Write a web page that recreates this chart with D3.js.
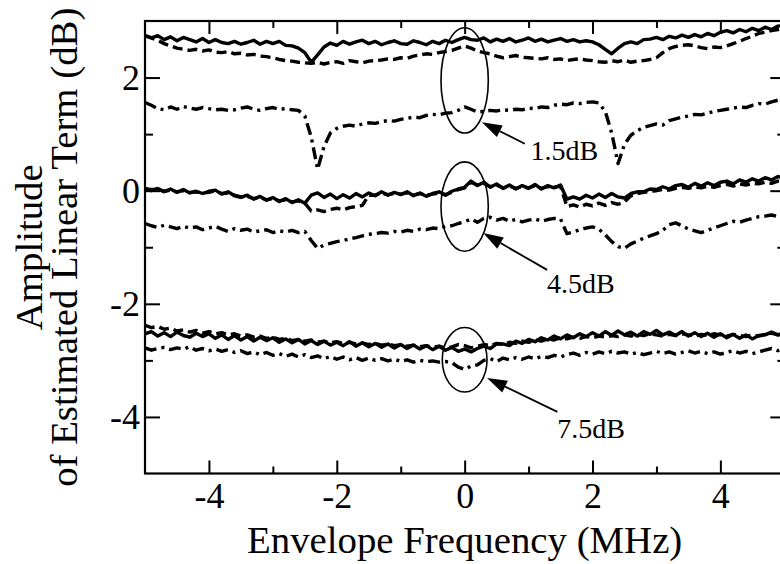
<!DOCTYPE html>
<html>
<head>
<meta charset="utf-8">
<script src="https://cdn.jsdelivr.net/npm/d3@7"></script>
<style>
  body { margin: 0; background: #fff; }
  svg { display: block; }
  text { font-family: "Liberation Serif", "Times New Roman", serif; fill: #000; }
</style>
</head>
<body>
<svg id="chart" width="780" height="564"></svg>
<script>
// Envelope frequency sweep (MHz)
const freq = [
  -5.0,-4.9,-4.8,-4.7,-4.6,-4.5,-4.4,-4.3,-4.2,-4.1,
  -4.0,-3.9,-3.8,-3.7,-3.6,-3.5,-3.4,-3.3,-3.2,-3.1,
  -3.0,-2.9,-2.8,-2.7,-2.6,-2.5,-2.4,-2.3,-2.2,-2.1,
  -2.0,-1.9,-1.8,-1.7,-1.6,-1.5,-1.4,-1.3,-1.2,-1.1,
  -1.0,-0.9,-0.8,-0.7,-0.6,-0.5,-0.4,-0.3,-0.2,-0.1,
   0.0, 0.1, 0.2, 0.3, 0.4, 0.5, 0.6, 0.7, 0.8, 0.9,
   1.0, 1.1, 1.2, 1.3, 1.4, 1.5, 1.6, 1.7, 1.8, 1.9,
   2.0, 2.1, 2.2, 2.3, 2.4, 2.5, 2.6, 2.7, 2.8, 2.9,
   3.0, 3.1, 3.2, 3.3, 3.4, 3.5, 3.6, 3.7, 3.8, 3.9,
   4.0, 4.1, 4.2, 4.3, 4.4, 4.5, 4.6, 4.7, 4.8, 4.9, 5.0
];

// 1.5 dB group (dB)
const solid15 = [
  2.74,2.70,2.74,2.67,2.72,2.65,2.71,2.67,2.63,2.69,
  2.62,2.67,2.62,2.60,2.64,2.59,2.62,2.66,2.59,2.64,
  2.60,2.64,2.57,2.56,2.52,2.44,2.27,2.40,2.54,2.61,
  2.57,2.64,2.59,2.63,2.66,2.60,2.64,2.58,2.62,2.65,
  2.60,2.59,2.65,2.62,2.58,2.64,2.60,2.66,2.62,2.67,
  2.71,2.67,2.66,2.70,2.63,2.68,2.64,2.69,2.63,2.66,
  2.70,2.64,2.68,2.63,2.66,2.69,2.64,2.67,2.63,2.65,
  2.63,2.58,2.50,2.42,2.52,2.60,2.63,2.60,2.67,2.68,
  2.71,2.67,2.73,2.70,2.75,2.71,2.76,2.72,2.78,2.74,
  2.80,2.83,2.79,2.85,2.81,2.87,2.83,2.89,2.85,2.91,2.92
];
const dashed15 = [
  2.74,2.70,2.66,2.60,2.56,2.52,2.50,2.48,2.50,2.47,
  2.49,2.45,2.44,2.46,2.42,2.43,2.40,2.41,2.38,2.37,
  2.35,2.32,2.30,2.29,2.27,2.26,2.25,2.27,2.24,2.27,
  2.28,2.25,2.30,2.28,2.26,2.29,2.30,2.31,2.33,2.32,
  2.35,2.34,2.38,2.40,2.42,2.41,2.44,2.46,2.48,2.52,
  2.56,2.52,2.47,2.44,2.42,2.38,2.35,2.37,2.39,2.36,
  2.35,2.34,2.33,2.35,2.32,2.33,2.30,2.32,2.33,2.31,
  2.30,2.28,2.27,2.30,2.28,2.31,2.27,2.29,2.30,2.32,
  2.35,2.44,2.51,2.55,2.57,2.58,2.56,2.53,2.51,2.54,
  2.53,2.56,2.60,2.64,2.69,2.73,2.78,2.80,2.83,2.85,2.87
];
const dashDot15 = [
  1.56,1.51,1.45,1.43,1.48,1.44,1.49,1.46,1.44,1.47,
  1.45,1.43,1.44,1.42,1.43,1.46,1.48,1.44,1.42,1.45,
  1.47,1.44,1.45,1.43,1.42,1.32,0.95,0.38,0.78,1.02,
  1.10,1.14,1.16,1.14,1.18,1.20,1.19,1.22,1.24,1.23,
  1.26,1.28,1.30,1.29,1.33,1.35,1.34,1.37,1.38,1.42,
  1.48,1.44,1.39,1.40,1.42,1.41,1.43,1.42,1.44,1.43,
  1.46,1.45,1.48,1.47,1.51,1.53,1.52,1.55,1.54,1.56,
  1.57,1.55,1.40,1.02,0.48,0.82,0.98,1.06,1.12,1.15,
  1.18,1.16,1.24,1.27,1.30,1.32,1.35,1.34,1.37,1.40,
  1.42,1.44,1.46,1.48,1.47,1.51,1.54,1.53,1.57,1.60,1.62
];

// 4.5 dB group (dB)
const solid45 = [
   0.04, 0.00, 0.04,-0.02, 0.03,-0.03, 0.02,-0.04,-0.01,-0.05,
  -0.01, 0.01,-0.06,-0.02,-0.09,-0.12,-0.08,-0.15,-0.10,-0.17,
  -0.12,-0.19,-0.14,-0.21,-0.16,-0.22,-0.08,-0.04,-0.12,-0.06,
  -0.14,-0.07,-0.13,-0.05,-0.11,-0.04,-0.09,-0.02,-0.08,-0.03,
  -0.07,-0.02,-0.09,-0.04,-0.10,-0.05,-0.02,-0.08,-0.01, 0.03,
   0.06, 0.17, 0.09, 0.15, 0.06, 0.12, 0.04, 0.10, 0.03, 0.09,
   0.04, 0.11, 0.03, 0.09, 0.05, 0.10,-0.15,-0.11,-0.15,-0.08,
  -0.13,-0.06,-0.12,-0.05,-0.11,-0.13,-0.05,-0.02,-0.02, 0.03,
   0.02, 0.07, 0.03, 0.09, 0.11, 0.06, 0.13, 0.08, 0.14, 0.09,
   0.15, 0.17, 0.12, 0.19, 0.15, 0.21, 0.17, 0.23, 0.19, 0.25, 0.22
];
const dashed45 = [
   0.03, 0.02, 0.02,-0.01, 0.01,-0.02, 0.00,-0.03,-0.02,-0.04,
  -0.03, 0.00,-0.05,-0.04,-0.08,-0.11,-0.10,-0.14,-0.12,-0.16,
  -0.14,-0.18,-0.16,-0.20,-0.18,-0.22,-0.36,-0.34,-0.37,-0.33,
  -0.31,-0.34,-0.30,-0.28,-0.26,-0.08,-0.08,-0.04,-0.07,-0.05,
  -0.06,-0.04,-0.08,-0.05,-0.08,-0.06,-0.04,-0.07,-0.03, 0.02,
   0.05, 0.15, 0.10, 0.13, 0.07, 0.10, 0.05, 0.08, 0.04, 0.07,
   0.05, 0.09, 0.04, 0.07, 0.06, 0.08,-0.28,-0.25,-0.29,-0.24,
  -0.27,-0.22,-0.26,-0.21,-0.24,-0.20,-0.09,-0.05,-0.03,-0.01,
   0.00, 0.02, 0.01, 0.04, 0.06, 0.04, 0.07, 0.05, 0.08, 0.06,
   0.09, 0.11, 0.08, 0.12, 0.10, 0.13, 0.12, 0.15, 0.13, 0.17, 0.15
];
const dashDot45 = [
  -0.58,-0.62,-0.65,-0.61,-0.64,-0.67,-0.63,-0.66,-0.64,-0.69,
  -0.66,-0.63,-0.68,-0.72,-0.67,-0.70,-0.68,-0.73,-0.71,-0.69,
  -0.74,-0.71,-0.73,-0.70,-0.74,-0.72,-0.88,-1.02,-0.96,-0.93,
  -0.90,-0.88,-0.85,-0.83,-0.80,-0.77,-0.76,-0.74,-0.75,-0.72,
  -0.73,-0.70,-0.72,-0.68,-0.69,-0.66,-0.67,-0.63,-0.62,-0.58,
  -0.55,-0.50,-0.56,-0.49,-0.47,-0.52,-0.49,-0.54,-0.51,-0.55,
  -0.52,-0.50,-0.54,-0.51,-0.49,-0.50,-0.76,-0.73,-0.69,-0.66,
  -0.64,-0.68,-0.78,-0.90,-0.99,-1.02,-0.94,-0.89,-0.84,-0.80,
  -0.76,-0.70,-0.60,-0.57,-0.62,-0.68,-0.71,-0.74,-0.70,-0.66,
  -0.62,-0.58,-0.54,-0.56,-0.52,-0.49,-0.46,-0.45,-0.43,-0.46,-0.42
];

// 7.5 dB group (dB)
const solid75 = [
  -2.53,-2.49,-2.57,-2.51,-2.58,-2.50,-2.56,-2.59,-2.52,-2.58,
  -2.53,-2.61,-2.55,-2.63,-2.56,-2.64,-2.58,-2.66,-2.59,-2.65,
  -2.60,-2.68,-2.62,-2.69,-2.63,-2.71,-2.65,-2.72,-2.66,-2.73,
  -2.68,-2.74,-2.67,-2.75,-2.69,-2.76,-2.70,-2.77,-2.71,-2.78,
  -2.72,-2.79,-2.73,-2.80,-2.74,-2.81,-2.75,-2.82,-2.77,-2.84,
  -2.80,-2.85,-2.79,-2.75,-2.79,-2.71,-2.71,-2.74,-2.66,-2.70,
  -2.63,-2.67,-2.60,-2.64,-2.57,-2.62,-2.55,-2.60,-2.53,-2.58,
  -2.51,-2.57,-2.49,-2.56,-2.48,-2.55,-2.50,-2.57,-2.49,-2.54,
  -2.47,-2.55,-2.50,-2.56,-2.49,-2.57,-2.51,-2.58,-2.52,-2.59,
  -2.53,-2.60,-2.54,-2.61,-2.55,-2.62,-2.56,-2.55,-2.50,-2.55,-2.50
];
const dashed75 = [
  -2.38,-2.42,-2.40,-2.45,-2.43,-2.48,-2.46,-2.50,-2.47,-2.52,
  -2.49,-2.53,-2.51,-2.55,-2.53,-2.57,-2.55,-2.59,-2.57,-2.61,
  -2.59,-2.63,-2.61,-2.65,-2.63,-2.66,-2.64,-2.68,-2.66,-2.69,
  -2.67,-2.70,-2.68,-2.71,-2.69,-2.72,-2.70,-2.73,-2.71,-2.74,
  -2.72,-2.75,-2.73,-2.76,-2.74,-2.77,-2.75,-2.78,-2.76,-2.72,
  -2.74,-2.78,-2.75,-2.72,-2.74,-2.70,-2.72,-2.68,-2.70,-2.66,
  -2.68,-2.64,-2.66,-2.62,-2.64,-2.60,-2.62,-2.59,-2.61,-2.58,
  -2.60,-2.57,-2.59,-2.56,-2.58,-2.55,-2.57,-2.54,-2.56,-2.53,
  -2.55,-2.57,-2.54,-2.56,-2.53,-2.55,-2.57,-2.54,-2.56,-2.53,
  -2.55,-2.57,-2.54,-2.56,-2.58,-2.55,-2.57,-2.54,-2.52,-2.55,-2.53
];
const dashDot75 = [
  -2.78,-2.82,-2.79,-2.77,-2.81,-2.78,-2.80,-2.76,-2.82,-2.79,
  -2.83,-2.80,-2.84,-2.81,-2.86,-2.83,-2.88,-2.85,-2.90,-2.86,
  -2.91,-2.88,-2.93,-2.89,-2.94,-2.90,-2.95,-2.92,-2.97,-2.93,
  -2.98,-2.94,-2.99,-2.95,-3.00,-2.96,-3.00,-2.97,-3.01,-2.98,
  -3.02,-2.99,-3.03,-3.00,-3.02,-3.01,-3.03,-3.02,-3.04,-3.12,
  -3.16,-3.10,-3.08,-3.00,-2.97,-3.02,-2.96,-2.99,-2.95,-2.98,
  -2.94,-2.97,-2.93,-2.95,-2.91,-2.94,-2.90,-2.87,-2.91,-2.86,
  -2.89,-2.85,-2.88,-2.84,-2.87,-2.85,-2.89,-2.86,-2.90,-2.87,
  -2.84,-2.88,-2.85,-2.89,-2.86,-2.83,-2.87,-2.84,-2.88,-2.85,
  -2.89,-2.86,-2.83,-2.87,-2.84,-2.88,-2.85,-2.82,-2.79,-2.83,-2.78
];

// Axis ticks
const xMajorTicks = [-4, -2, 0, 2, 4];
const xMinorTicks = [-3, -1, 1, 3];
const yMajorTicks = [-4, -2, 0, 2];
const yMinorTicks = [-3, -1, 1];

// Input-power labels, one ellipse per group at 0 MHz
const groupLabels = ["1.5dB", "4.5dB", "7.5dB"];

const series = [
  { values: solid15,   kind: "solid" },
  { values: dashed15,  kind: "dashed" },
  { values: dashDot15, kind: "dashdot" },
  { values: solid45,   kind: "solid" },
  { values: dashed45,  kind: "dashed" },
  { values: dashDot45, kind: "dashdot" },
  { values: solid75,   kind: "solid" },
  { values: dashed75,  kind: "dashed" },
  { values: dashDot75, kind: "dashdot" }
];

// Layout of the call-outs in data units (ellipse centre / radii, arrow, text anchor)
const callouts = [
  { cy:  1.95, rx: 0.37, ry: 0.93, tip: [0.27,  1.21], tail: [0.94,  0.83], text: [1.03,  0.54] },
  { cy: -0.28, rx: 0.37, ry: 0.79, tip: [0.29, -0.75], tail: [1.29, -1.40], text: [1.29, -1.81] },
  { cy: -2.99, rx: 0.35, ry: 0.57, tip: [0.35, -3.31], tail: [1.45, -3.91], text: [1.45, -4.37] }
];

const dashes = { solid: null, dashed: "10,5", dashdot: "12,5,3,5" };
const serif = "'Liberation Serif', 'Times New Roman', serif";

const svg = d3.select("#chart");
const margin = { left: 145, top: 21 };
const plotW = 639.3, plotH = 452.5;

const x = d3.scaleLinear().domain([-5, 5]).range([margin.left, margin.left + plotW]);
const y = d3.scaleLinear().domain([3, -5]).range([margin.top, margin.top + plotH]);

const plot = svg.append("g");
plot.append("clipPath").attr("id", "clip")
  .append("rect").attr("x", x(-5)).attr("y", y(3)).attr("width", plotW).attr("height", plotH);

const line = d3.line().x((d, i) => x(freq[i])).y(d => y(d));

plot.append("g").attr("clip-path", "url(#clip)")
  .selectAll("path").data(series).join("path")
  .attr("d", d => line(d.values))
  .attr("fill", "none")
  .attr("stroke", "#000")
  .attr("stroke-width", 3.4)
  .attr("stroke-linejoin", "round")
  .attr("stroke-dasharray", d => dashes[d.kind]);

// Axes: ticks point inward on all four sides
function styleAxis(g) {
  g.select(".domain").remove();
  g.selectAll(".tick line").attr("stroke", "#000").attr("stroke-width", 2);
  g.selectAll("text").style("font-family", serif).style("font-size", "36px").style("fill", "#000");
}
const bottomY = y(-5), topY = y(3), leftX = x(-5), rightX = x(5);
const fmt = d => String(d);

svg.append("g").attr("transform", `translate(0,${bottomY})`)
  .call(d3.axisBottom(x).tickValues(xMajorTicks).tickSize(-13).tickPadding(9).tickFormat(fmt)).call(styleAxis);
svg.append("g").attr("transform", `translate(0,${bottomY})`)
  .call(d3.axisBottom(x).tickValues(xMinorTicks).tickSize(-7).tickFormat("")).call(styleAxis);
svg.append("g").attr("transform", `translate(0,${topY})`)
  .call(d3.axisTop(x).tickValues(xMajorTicks).tickSize(-13).tickFormat("")).call(styleAxis);
svg.append("g").attr("transform", `translate(0,${topY})`)
  .call(d3.axisTop(x).tickValues(xMinorTicks).tickSize(-7).tickFormat("")).call(styleAxis);
const leftAxis = svg.append("g").attr("transform", `translate(${leftX},0)`)
  .call(d3.axisLeft(y).tickValues(yMajorTicks).tickSize(-15).tickPadding(5).tickFormat(fmt)).call(styleAxis);
leftAxis.selectAll("text").attr("dy", "0.33em");
svg.append("g").attr("transform", `translate(${leftX},0)`)
  .call(d3.axisLeft(y).tickValues(yMinorTicks).tickSize(-8).tickFormat("")).call(styleAxis);
svg.append("g").attr("transform", `translate(${rightX},0)`)
  .call(d3.axisRight(y).tickValues(yMajorTicks).tickSize(-14).tickFormat("")).call(styleAxis);
svg.append("g").attr("transform", `translate(${rightX},0)`)
  .call(d3.axisRight(y).tickValues(yMinorTicks).tickSize(-7).tickFormat("")).call(styleAxis);

svg.append("rect")
  .attr("x", leftX).attr("y", topY).attr("width", rightX - leftX).attr("height", bottomY - topY)
  .attr("fill", "none").attr("stroke", "#000").attr("stroke-width", 2.2);

// Axis titles
const titleSize = "38.8px";
svg.append("text")
  .attr("x", x(0)).attr("y", 553)
  .attr("text-anchor", "middle").style("font-size", titleSize).style("font-family", serif)
  .text("Envelope Frequency (MHz)");
const midY = (topY + bottomY) / 2;
svg.append("text")
  .attr("transform", `translate(42,${midY}) rotate(-90)`)
  .attr("text-anchor", "middle").style("font-size", titleSize).style("font-family", serif)
  .text("Amplitude");
svg.append("text")
  .attr("transform", `translate(77,${midY}) rotate(-90)`)
  .attr("text-anchor", "middle").style("font-size", titleSize).style("font-family", serif)
  .text("of Estimated Linear Term (dB)");

// Call-outs: ellipse around 0 MHz, arrow and group label
const ann = svg.append("g");
callouts.forEach((c, i) => {
  const cx = x(0), cyPx = y(c.cy);
  ann.append("ellipse")
    .attr("cx", cx).attr("cy", cyPx)
    .attr("rx", x(c.rx) - x(0)).attr("ry", y(c.cy - c.ry) - cyPx)
    .attr("fill", "none").attr("stroke", "#000").attr("stroke-width", 1.6);

  const tx = x(c.tip[0]), ty = y(c.tip[1]);
  const sx = x(c.tail[0]), sy = y(c.tail[1]);
  const len = Math.hypot(tx - sx, ty - sy);
  const ux = (tx - sx) / len, uy = (ty - sy) / len;
  const headL = 20, headW = 6.5;
  const bx = tx - ux * headL, by = ty - uy * headL;
  ann.append("line")
    .attr("x1", sx).attr("y1", sy).attr("x2", bx).attr("y2", by)
    .attr("stroke", "#000").attr("stroke-width", 1.8);
  ann.append("polygon")
    .attr("points", [[tx, ty], [bx - uy * headW, by + ux * headW], [bx + uy * headW, by - ux * headW]].map(p => p.join(",")).join(" "))
    .attr("fill", "#000");

  ann.append("text")
    .attr("x", x(c.text[0])).attr("y", y(c.text[1]))
    .style("font-size", "28px").style("font-family", serif)
    .text(groupLabels[i]);
});
</script>
</body>
</html>
